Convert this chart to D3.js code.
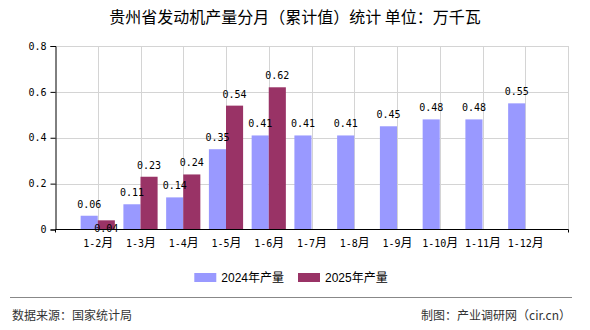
<!DOCTYPE html>
<html><head><meta charset="utf-8">
<script src="https://cdn.jsdelivr.net/npm/d3@7"></script>
<style>
body{margin:0;background:#fff;}
svg{display:block;}
</style></head>
<body>
<svg id="c" width="590" height="330"></svg>
<script>
const title = "贵州省发动机产量分月（累计值）统计 单位：万千瓦";
const categories = ["1-2月","1-3月","1-4月","1-5月","1-6月","1-7月","1-8月","1-9月","1-10月","1-11月","1-12月"];
const values2024 = [0.06,0.11,0.14,0.35,0.41,0.41,0.41,0.45,0.48,0.48,0.55];
const values2025 = [0.04,0.23,0.24,0.54,0.62];
const seriesNames = ["2024年产量","2025年产量"];
const seriesColors = ["#9999FF","#993366"];
const yTicks = [0,0.2,0.4,0.6,0.8];
const sourceText = "数据来源：国家统计局";
const creditText = "制图：产业调研网（cir.cn）";

const svg = d3.select("#c");
const M = {left:55, right:568, top:46, bottom:229.5};
const numFont = '"DejaVu Sans Mono","Noto Sans CJK SC",monospace';
const cjkFont = '"Noto Sans CJK SC","Liberation Sans",sans-serif';

const x = d3.scalePoint().domain(categories).range([M.left, M.right]).padding(1);
const y = d3.scaleLinear().domain([0,0.8]).range([M.bottom, M.top]);
const bw = x.step()*0.4;

// title
svg.append("text").attr("x",295).attr("y",23).attr("text-anchor","middle")
  .attr("font-family",cjkFont).attr("font-size",16).attr("fill","#000").text(title);

// grid
const grid = svg.append("g");
yTicks.filter(d=>d>0).forEach(t=>{
  grid.append("line").attr("x1",M.left).attr("x2",M.right)
    .attr("y1",Math.round(y(t))+0.5).attr("y2",Math.round(y(t))+0.5)
    .attr("stroke","#d4d4d4");
});
categories.forEach(c=>{
  grid.append("line").attr("x1",Math.round(x(c))+0.5).attr("x2",Math.round(x(c))+0.5)
    .attr("y1",y(0.8)).attr("y2",M.bottom).attr("stroke","#d4d4d4");
});
grid.append("line").attr("x1",M.right+0.5).attr("x2",M.right+0.5)
  .attr("y1",y(0.8)).attr("y2",M.bottom).attr("stroke","#d4d4d4");

// bars
const series = [values2024, values2025];
series.forEach((vals,si)=>{
  svg.append("g").selectAll("rect").data(vals).join("rect")
    .attr("x",(d,i)=>x(categories[i]) - bw + si*bw)
    .attr("y",d=>y(d)).attr("width",bw).attr("height",d=>y(0)-y(d))
    .attr("fill",seriesColors[si]);
});

// value labels with simple collision avoidance
const placed = [];
const lblG = svg.append("g").attr("font-family",numFont).attr("font-size",10).attr("fill","#000");
series.forEach((vals,si)=>{
  vals.forEach((v,i)=>{
    const cx = x(categories[i]) - bw/2 + si*bw;
    let by = y(v) - 8;
    const w = 24, h = 8;
    const hit = placed.some(p=>Math.abs(p.x-cx)<w && Math.abs(p.y-by)<h+2);
    if(hit) by = y(v) + 12;
    placed.push({x:cx,y:by});
    lblG.append("text").attr("x",cx).attr("y",by).attr("text-anchor","middle").text(v.toFixed(2));
  });
});

// y axis
const yAxis = svg.append("g").attr("transform",`translate(${M.left+0.5},0)`)
  .call(d3.axisLeft(y).tickValues(yTicks).tickSize(5).tickPadding(4).tickFormat(d=>d===0?"0":d3.format(".1f")(d)));
yAxis.select(".domain").attr("stroke","#000");
yAxis.selectAll(".tick line").attr("stroke","#000");
yAxis.selectAll("text").attr("font-family",numFont).attr("font-size",10).attr("fill","#000");

// x axis
const xAxis = svg.append("g").attr("transform",`translate(0,${M.bottom})`)
  .call(d3.axisBottom(x).tickSizeInner(0).tickSizeOuter(3).tickPadding(0));
xAxis.select(".domain").attr("stroke","#000").attr("d",`M${M.left+0.5},3V0H${M.right+0.5}V3`);
xAxis.selectAll(".tick text").each(function(d){
  const t = d3.select(this);
  t.text(null).attr("y",17.5).attr("dy",null).attr("fill","#000")
   .attr("font-family",numFont).attr("font-size",10);
  const base = d.replace(/月$/,"");
  t.append("tspan").text(base);
  t.append("tspan").attr("font-family",cjkFont).attr("font-size",12).text("月");
});

// legend
const lg = svg.append("g");
const items = [];
let cur = 0;
seriesNames.forEach((n,i)=>{
  const g = lg.append("g");
  g.append("rect").attr("x",0).attr("y",-4.5).attr("width",22).attr("height",9).attr("fill",seriesColors[i]);
  const t = g.append("text").attr("x",27).attr("y",4.5).attr("font-family",'"Liberation Sans","Noto Sans CJK SC",sans-serif')
    .attr("font-size",12).attr("fill","#000").text(n);
  const w = 27 + t.node().getComputedTextLength();
  items.push({g,w});
});
const gap = 14;
const total = d3.sum(items,d=>d.w) + gap*(items.length-1);
let lx = 291 - total/2;
items.forEach(it=>{ it.g.attr("transform",`translate(${lx},277.5)`); lx += it.w + gap; });

// footer
svg.append("line").attr("x1",10).attr("x2",572).attr("y1",297.5).attr("y2",297.5).attr("stroke","#888");
svg.append("text").attr("x",12).attr("y",320).attr("font-family",cjkFont).attr("font-size",12).attr("fill","#333").text(sourceText);
svg.append("text").attr("x",571).attr("y",320).attr("text-anchor","end").attr("font-family",cjkFont).attr("font-size",12).attr("fill","#333").text(creditText);
</script>
</body></html>
